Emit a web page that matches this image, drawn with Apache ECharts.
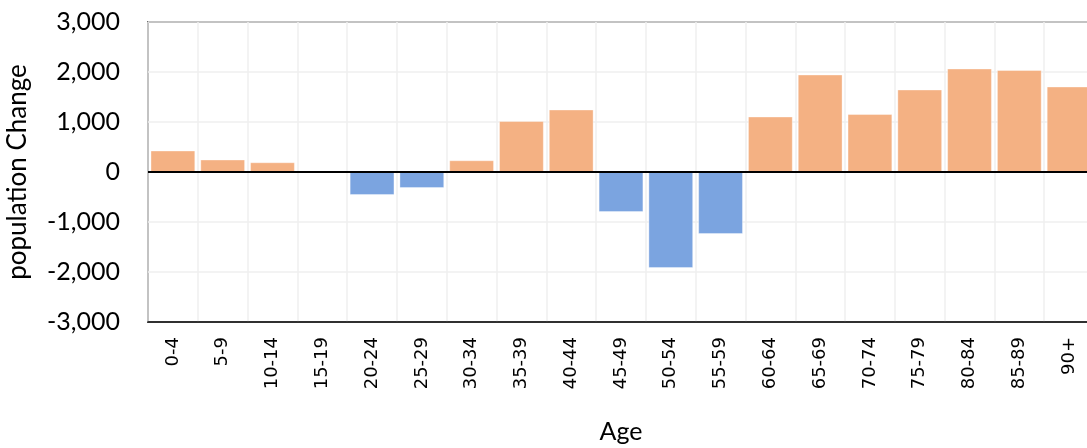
<!DOCTYPE html>
<html>
<head>
<meta charset="utf-8">
<script src="https://cdn.jsdelivr.net/npm/echarts@6/dist/echarts.min.js"></script>
<style>html,body{margin:0;padding:0;background:#fff;}#c{width:1087px;height:448px;}</style>
</head>
<body>
<div id="c"></div>
<script>
var categories = ['0-4','5-9','10-14','15-19','20-24','25-29','30-34','35-39','40-44','45-49','50-54','55-59','60-64','65-69','70-74','75-79','80-84','85-89','90+'];
var values = [430, 250, 195, 0, -460, -320, 235, 1020, 1250, -800, -1920, -1240, 1110, 1950, 1160, 1650, 2070, 2040, 1710];
var yTicks = [-3000, -2000, -1000, 0, 1000, 2000, 3000];
var posColor = '#F4B183';
var negColor = '#7BA4E0';

var chart = echarts.init(document.getElementById('c'));
chart.setOption({
  animation: false,
  grid: {left: 148, top: 22, width: 946, height: 300, show: true, borderColor: '#000', borderWidth: 1.5,
    backgroundColor: 'transparent', outerBoundsMode: 'none', containLabel: false},
  xAxis: {
    type: 'category',
    data: categories,
    axisLine: {onZero: false, show: true, lineStyle: {color: '#000', width: 1.5}},
    axisTick: {show: false},
    splitLine: {show: true, lineStyle: {color: '#efefef', width: 1.5}},
    axisLabel: {rotate: 90, margin: 15, fontFamily: 'DejaVu Sans', fontSize: 18, color: '#000', interval: 0},
    name: 'Age', nameLocation: 'middle', nameGap: 97,
    nameTextStyle: {fontFamily: 'Lato', fontSize: 25, color: '#000'}
  },
  yAxis: {
    type: 'value',
    min: yTicks[0], max: yTicks[yTicks.length - 1], interval: 1000,
    axisLine: {show: false},
    axisTick: {show: false},
    splitLine: {show: true, lineStyle: {color: '#efefef', width: 1.5}},
    axisLabel: {margin: 28, fontFamily: 'Lato', fontSize: 25, color: '#000',
      formatter: function (v) { return v.toLocaleString('en-US'); }},
    name: 'population Change', nameLocation: 'middle', nameGap: 117,
    nameTextStyle: {fontFamily: 'Lato', fontSize: 26, color: '#000'}
  },
  series: [{
    type: 'bar',
    barCategoryGap: '10%',
    data: values.map(function (v) {
      return {value: v, itemStyle: {color: v >= 0 ? posColor : negColor}};
    }),
    itemStyle: {borderColor: 'rgba(255,255,255,0.35)', borderWidth: 1},
    markLine: {
      silent: true, symbol: 'none', label: {show: false},
      lineStyle: {color: '#000', width: 2, type: 'solid'},
      data: [{yAxis: 0}]
    }
  }]
});
</script>
</body>
</html>
